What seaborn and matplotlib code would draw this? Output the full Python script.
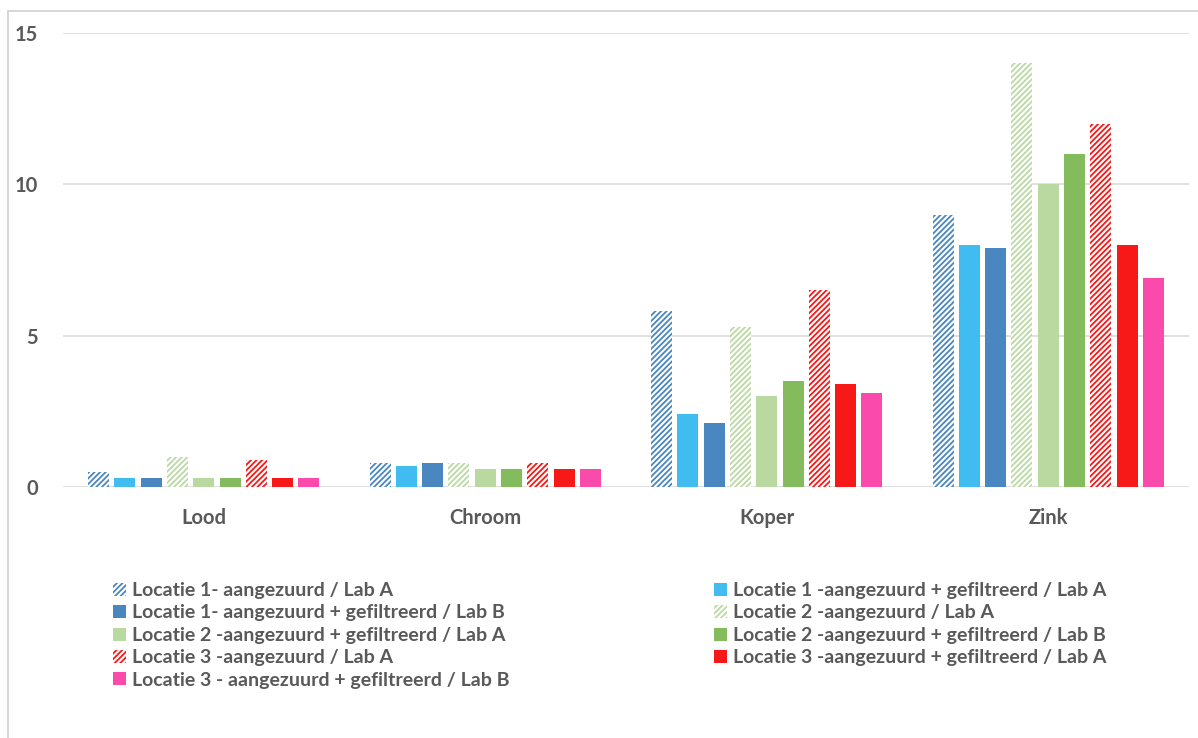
import pandas as pd
import numpy as np
import matplotlib.pyplot as plt
import matplotlib.patches as mpatches
from matplotlib.lines import Line2D
import seaborn as sns

# data
metalen = ['Lood', 'Chroom', 'Koper', 'Zink']

reeksen = [
    'Locatie 1- aangezuurd / Lab A',
    'Locatie 1 -aangezuurd + gefiltreerd / Lab A',
    'Locatie 1- aangezuurd + gefiltreerd / Lab B',
    'Locatie 2 -aangezuurd / Lab A',
    'Locatie 2 -aangezuurd + gefiltreerd / Lab A',
    'Locatie 2 -aangezuurd + gefiltreerd / Lab B',
    'Locatie 3 -aangezuurd / Lab A',
    'Locatie 3 -aangezuurd + gefiltreerd / Lab A',
    'Locatie 3 - aangezuurd + gefiltreerd / Lab B',
]

loc1_a = [0.5, 0.8, 5.8, 9.0]
loc1_fa = [0.3, 0.7, 2.4, 8.0]
loc1_fb = [0.3, 0.8, 2.1, 7.9]
loc2_a = [1.0, 0.8, 5.3, 14.0]
loc2_fa = [0.3, 0.6, 3.0, 10.0]
loc2_fb = [0.3, 0.6, 3.5, 11.0]
loc3_a = [0.9, 0.8, 6.5, 12.0]
loc3_fa = [0.3, 0.6, 3.4, 8.0]
loc3_fb = [0.3, 0.6, 3.1, 6.9]

waarden = [loc1_a, loc1_fa, loc1_fb, loc2_a, loc2_fa, loc2_fb, loc3_a, loc3_fa, loc3_fb]

kleuren = ['#4A86C0', '#40BCF0', '#4A86C0', '#BAD9A3', '#B9D9A0',
           '#84BB5C', '#F71818', '#F71818', '#FA4BAD']
gearceerd = [True, False, False, True, False, False, True, False, False]

rows = []
for naam, vals in zip(reeksen, waarden):
    for m, v in zip(metalen, vals):
        rows.append({'Metaal': m, 'Reeks': naam, 'Waarde': v})
df = pd.DataFrame(rows)

sns.set_style('white')
plt.rcParams['font.family'] = ['Lato', 'DejaVu Sans']
plt.rcParams['hatch.linewidth'] = 1.3

grijs = '#595959'

fig = plt.figure(figsize=(11.98, 7.38), dpi=100)
ax = fig.add_axes([63 / 1198, 1 - 487 / 738, (1189 - 63) / 1198, (487 - 33) / 738])

sns.barplot(data=df, x='Metaal', y='Waarde', hue='Reeks', hue_order=reeksen,
            palette=kleuren, saturation=1, width=0.84, gap=0.2, legend=False, ax=ax)

for i, cont in enumerate(ax.containers):
    for bar in cont:
        if gearceerd[i]:
            bar.set_facecolor('white')
            bar.set_edgecolor(kleuren[i])
            bar.set_hatch('//////')
        bar.set_linewidth(0)

ax.set_ylim(0, 15)
ax.set_xlim(-0.5, 3.5)
ax.set_yticks([0, 5, 10, 15])
ax.yaxis.grid(True, color='#D9D9D9', linewidth=1.2)
ax.set_axisbelow(True)
for s in ax.spines.values():
    s.set_visible(False)
ax.set_xlabel('')
ax.set_ylabel('')
ax.tick_params(axis='y', length=0, pad=18, labelsize=14.5, labelcolor=grijs)
ax.tick_params(axis='x', length=0, pad=15, labelsize=14.5, labelcolor=grijs)
for lab in ax.get_xticklabels() + ax.get_yticklabels():
    lab.set_fontweight('bold')

# legend, two columns filled row by row
handles = []
for i, naam in enumerate(reeksen):
    if gearceerd[i]:
        h = mpatches.Patch(facecolor='white', edgecolor=kleuren[i], hatch='//////',
                           linewidth=0, label=naam)
    else:
        h = mpatches.Patch(facecolor=kleuren[i], linewidth=0, label=naam)
    handles.append(h)

links = handles[0::2]
rechts = handles[1::2]
for hs, xpos in [(links, 113 / 1198), (rechts, 714 / 1198)]:
    leg = fig.legend(handles=hs, loc='upper left', bbox_to_anchor=(xpos, 1 - 582 / 738),
                     frameon=False, fontsize=14, handlelength=0.65, handleheight=0.65,
                     handletextpad=0.35, labelspacing=0.28, borderaxespad=0, borderpad=0)
    for t in leg.get_texts():
        t.set_color(grijs)
        t.set_fontweight('bold')

# outer chart frame
fig.add_artist(Line2D([8 / 1198, 8 / 1198], [0, 1 - 11 / 738], transform=fig.transFigure,
                      color='#D0D0D0', linewidth=1.2))
fig.add_artist(Line2D([8 / 1198, 1], [1 - 11 / 738, 1 - 11 / 738], transform=fig.transFigure,
                      color='#D0D0D0', linewidth=1.2))

fig.savefig('out.png', dpi=100)
